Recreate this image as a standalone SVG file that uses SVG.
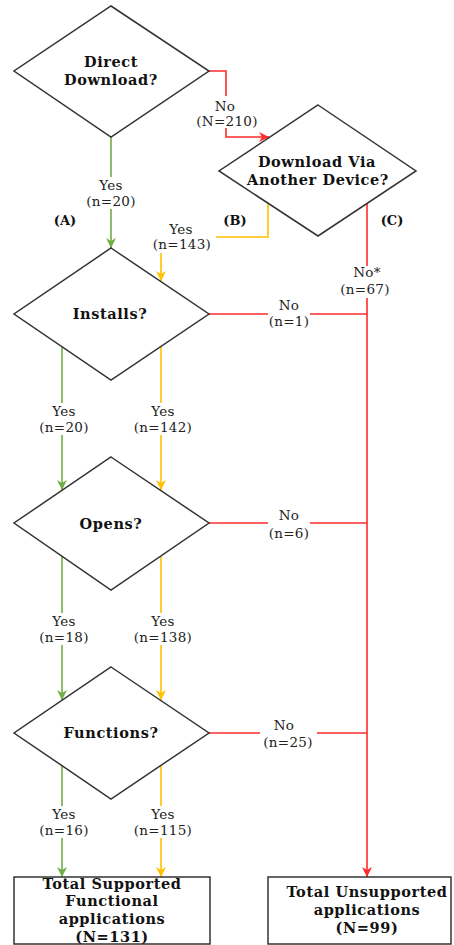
<svg xmlns="http://www.w3.org/2000/svg" width="454" height="945" viewBox="0 0 454 945">
  <style>
    .shape { fill: #ffffff; stroke: #333333; stroke-width: 1.5; }
    .title { font-family: "DejaVu Serif", "Liberation Serif", serif; font-weight: bold; font-size: 14.5px; letter-spacing: 0.6px; fill: #111111; text-anchor: middle; }
    .tag { font-family: "DejaVu Serif", "Liberation Serif", serif; font-weight: bold; font-size: 13px; fill: #111111; text-anchor: middle; }
    .lbl { font-family: "DejaVu Serif", "Liberation Serif", serif; font-size: 13.5px; letter-spacing: 0.3px; fill: #222222; text-anchor: middle; }
    .bg { fill: #ffffff; }
    .line { fill: none; stroke-width: 1.6; }
    .green { stroke: #70ad47; }
    .yellow { stroke: #ffc000; }
    .red { stroke: #ff2a2a; }
  </style>
  <defs>
    <marker id="arrow-green" markerUnits="userSpaceOnUse" markerWidth="12" markerHeight="12" refX="10" refY="5" orient="auto">
      <path d="M0,0 L10,5 L0,10 L3,5 z" fill="#70ad47"/>
    </marker>
    <marker id="arrow-yellow" markerUnits="userSpaceOnUse" markerWidth="12" markerHeight="12" refX="10" refY="5" orient="auto">
      <path d="M0,0 L10,5 L0,10 L3,5 z" fill="#ffc000"/>
    </marker>
    <marker id="arrow-red" markerUnits="userSpaceOnUse" markerWidth="12" markerHeight="12" refX="10" refY="5" orient="auto">
      <path d="M0,0 L10,5 L0,10 L3,5 z" fill="#ff2a2a"/>
    </marker>
  </defs>

  <!-- connectors -->
  <g id="connectors">
    <path class="line red" d="M209,71 H226 V137 H269" marker-end="url(#arrow-red)"/>
    <path class="line green" d="M111,137 V248" marker-end="url(#arrow-green)"/>
    <path class="line yellow" d="M268,203 V237 H161 V281" marker-end="url(#arrow-yellow)"/>
    <path class="line red" d="M209,314 H367"/>
    <path class="line red" d="M367,203 V877" marker-end="url(#arrow-red)"/>
    <path class="line green" d="M62,347 V490" marker-end="url(#arrow-green)"/>
    <path class="line yellow" d="M161,347 V490" marker-end="url(#arrow-yellow)"/>
    <path class="line red" d="M209,523 H367"/>
    <path class="line green" d="M62,556 V700" marker-end="url(#arrow-green)"/>
    <path class="line yellow" d="M161,556 V700" marker-end="url(#arrow-yellow)"/>
    <path class="line red" d="M209,733 H367"/>
    <path class="line green" d="M62,766 V877" marker-end="url(#arrow-green)"/>
    <path class="line yellow" d="M161,766 V877" marker-end="url(#arrow-yellow)"/>

    <!-- branch labels on white backing -->
    <g id="label-no-210">
      <rect class="bg" x="194" y="96" width="66" height="32"/>
      <text class="lbl" x="225" y="111">No</text>
      <text class="lbl" x="227" y="126">(N=210)</text>
    </g>
    <g id="label-yes-20a">
      <rect class="bg" x="84" y="177" width="54" height="32"/>
      <text class="lbl" x="111" y="190">Yes</text>
      <text class="lbl" x="111" y="206">(n=20)</text>
    </g>
    <g id="label-yes-143">
      <rect class="bg" x="148" y="221" width="68" height="32"/>
      <text class="lbl" x="181" y="234">Yes</text>
      <text class="lbl" x="182" y="249">(n=143)</text>
    </g>
    <g id="label-no-67">
      <rect class="bg" x="335" y="266" width="60" height="32"/>
      <text class="lbl" x="367" y="277">No*</text>
      <text class="lbl" x="365" y="294">(n=67)</text>
    </g>
    <g id="label-no-1">
      <rect class="bg" x="268" y="297" width="42" height="33"/>
      <text class="lbl" x="289" y="310">No</text>
      <text class="lbl" x="289" y="326">(n=1)</text>
    </g>
    <g id="label-yes-20b">
      <rect class="bg" x="35" y="403" width="58" height="32"/>
      <text class="lbl" x="64" y="416">Yes</text>
      <text class="lbl" x="64" y="432">(n=20)</text>
    </g>
    <g id="label-yes-142">
      <rect class="bg" x="129" y="403" width="68" height="32"/>
      <text class="lbl" x="163" y="416">Yes</text>
      <text class="lbl" x="163" y="432">(n=142)</text>
    </g>
    <g id="label-no-6">
      <rect class="bg" x="268" y="507" width="42" height="33"/>
      <text class="lbl" x="289" y="520">No</text>
      <text class="lbl" x="289" y="538">(n=6)</text>
    </g>
    <g id="label-yes-18">
      <rect class="bg" x="35" y="613" width="58" height="32"/>
      <text class="lbl" x="64" y="626">Yes</text>
      <text class="lbl" x="64" y="642">(n=18)</text>
    </g>
    <g id="label-yes-138">
      <rect class="bg" x="129" y="613" width="68" height="32"/>
      <text class="lbl" x="163" y="626">Yes</text>
      <text class="lbl" x="163" y="642">(n=138)</text>
    </g>
    <g id="label-no-25">
      <rect class="bg" x="260" y="717" width="57" height="33"/>
      <text class="lbl" x="284" y="730">No</text>
      <text class="lbl" x="288" y="747">(n=25)</text>
    </g>
    <g id="label-yes-16">
      <rect class="bg" x="35" y="806" width="58" height="32"/>
      <text class="lbl" x="64" y="819">Yes</text>
      <text class="lbl" x="64" y="835">(n=16)</text>
    </g>
    <g id="label-yes-115">
      <rect class="bg" x="129" y="806" width="68" height="32"/>
      <text class="lbl" x="163" y="819">Yes</text>
      <text class="lbl" x="163" y="835">(n=115)</text>
    </g>
  </g>

  <!-- path tags -->
  <g id="path-tags">
    <text class="tag" x="65" y="225">(A)</text>
    <text class="tag" x="235" y="225">(B)</text>
    <text class="tag" x="392" y="225">(C)</text>
  </g>

  <!-- decision nodes -->
  <g id="direct-download">
    <polygon class="shape" points="111,6 209,71 111,137 14,71"/>
    <text class="title" x="111" y="67">Direct</text>
    <text class="title" x="111" y="85">Download?</text>
  </g>
  <g id="download-via-device">
    <polygon class="shape" points="318,105 416,171 318,236 219,171"/>
    <text class="title" x="317" y="167">Download Via</text>
    <text class="title" x="318" y="185">Another Device?</text>
  </g>
  <g id="installs">
    <polygon class="shape" points="111,248 209,314 111,380 14,314"/>
    <text class="title" x="110" y="319">Installs?</text>
  </g>
  <g id="opens">
    <polygon class="shape" points="111,457 209,523 111,590 14,523"/>
    <text class="title" x="111" y="529">Opens?</text>
  </g>
  <g id="functions">
    <polygon class="shape" points="111,667 209,733 111,799 14,733"/>
    <text class="title" x="111" y="738">Functions?</text>
  </g>

  <!-- outcome nodes -->
  <g id="total-supported">
    <rect class="shape" x="14" y="877" width="196" height="67"/>
    <text class="title" x="112" y="889">Total Supported</text>
    <text class="title" x="112" y="906">Functional</text>
    <text class="title" x="112" y="924">applications</text>
    <text class="title" x="112" y="942">(N=131)</text>
  </g>
  <g id="total-unsupported">
    <rect class="shape" x="268" y="877" width="183" height="67"/>
    <text class="title" x="367" y="897">Total Unsupported</text>
    <text class="title" x="367" y="915">applications</text>
    <text class="title" x="367" y="933">(N=99)</text>
  </g>
</svg>
